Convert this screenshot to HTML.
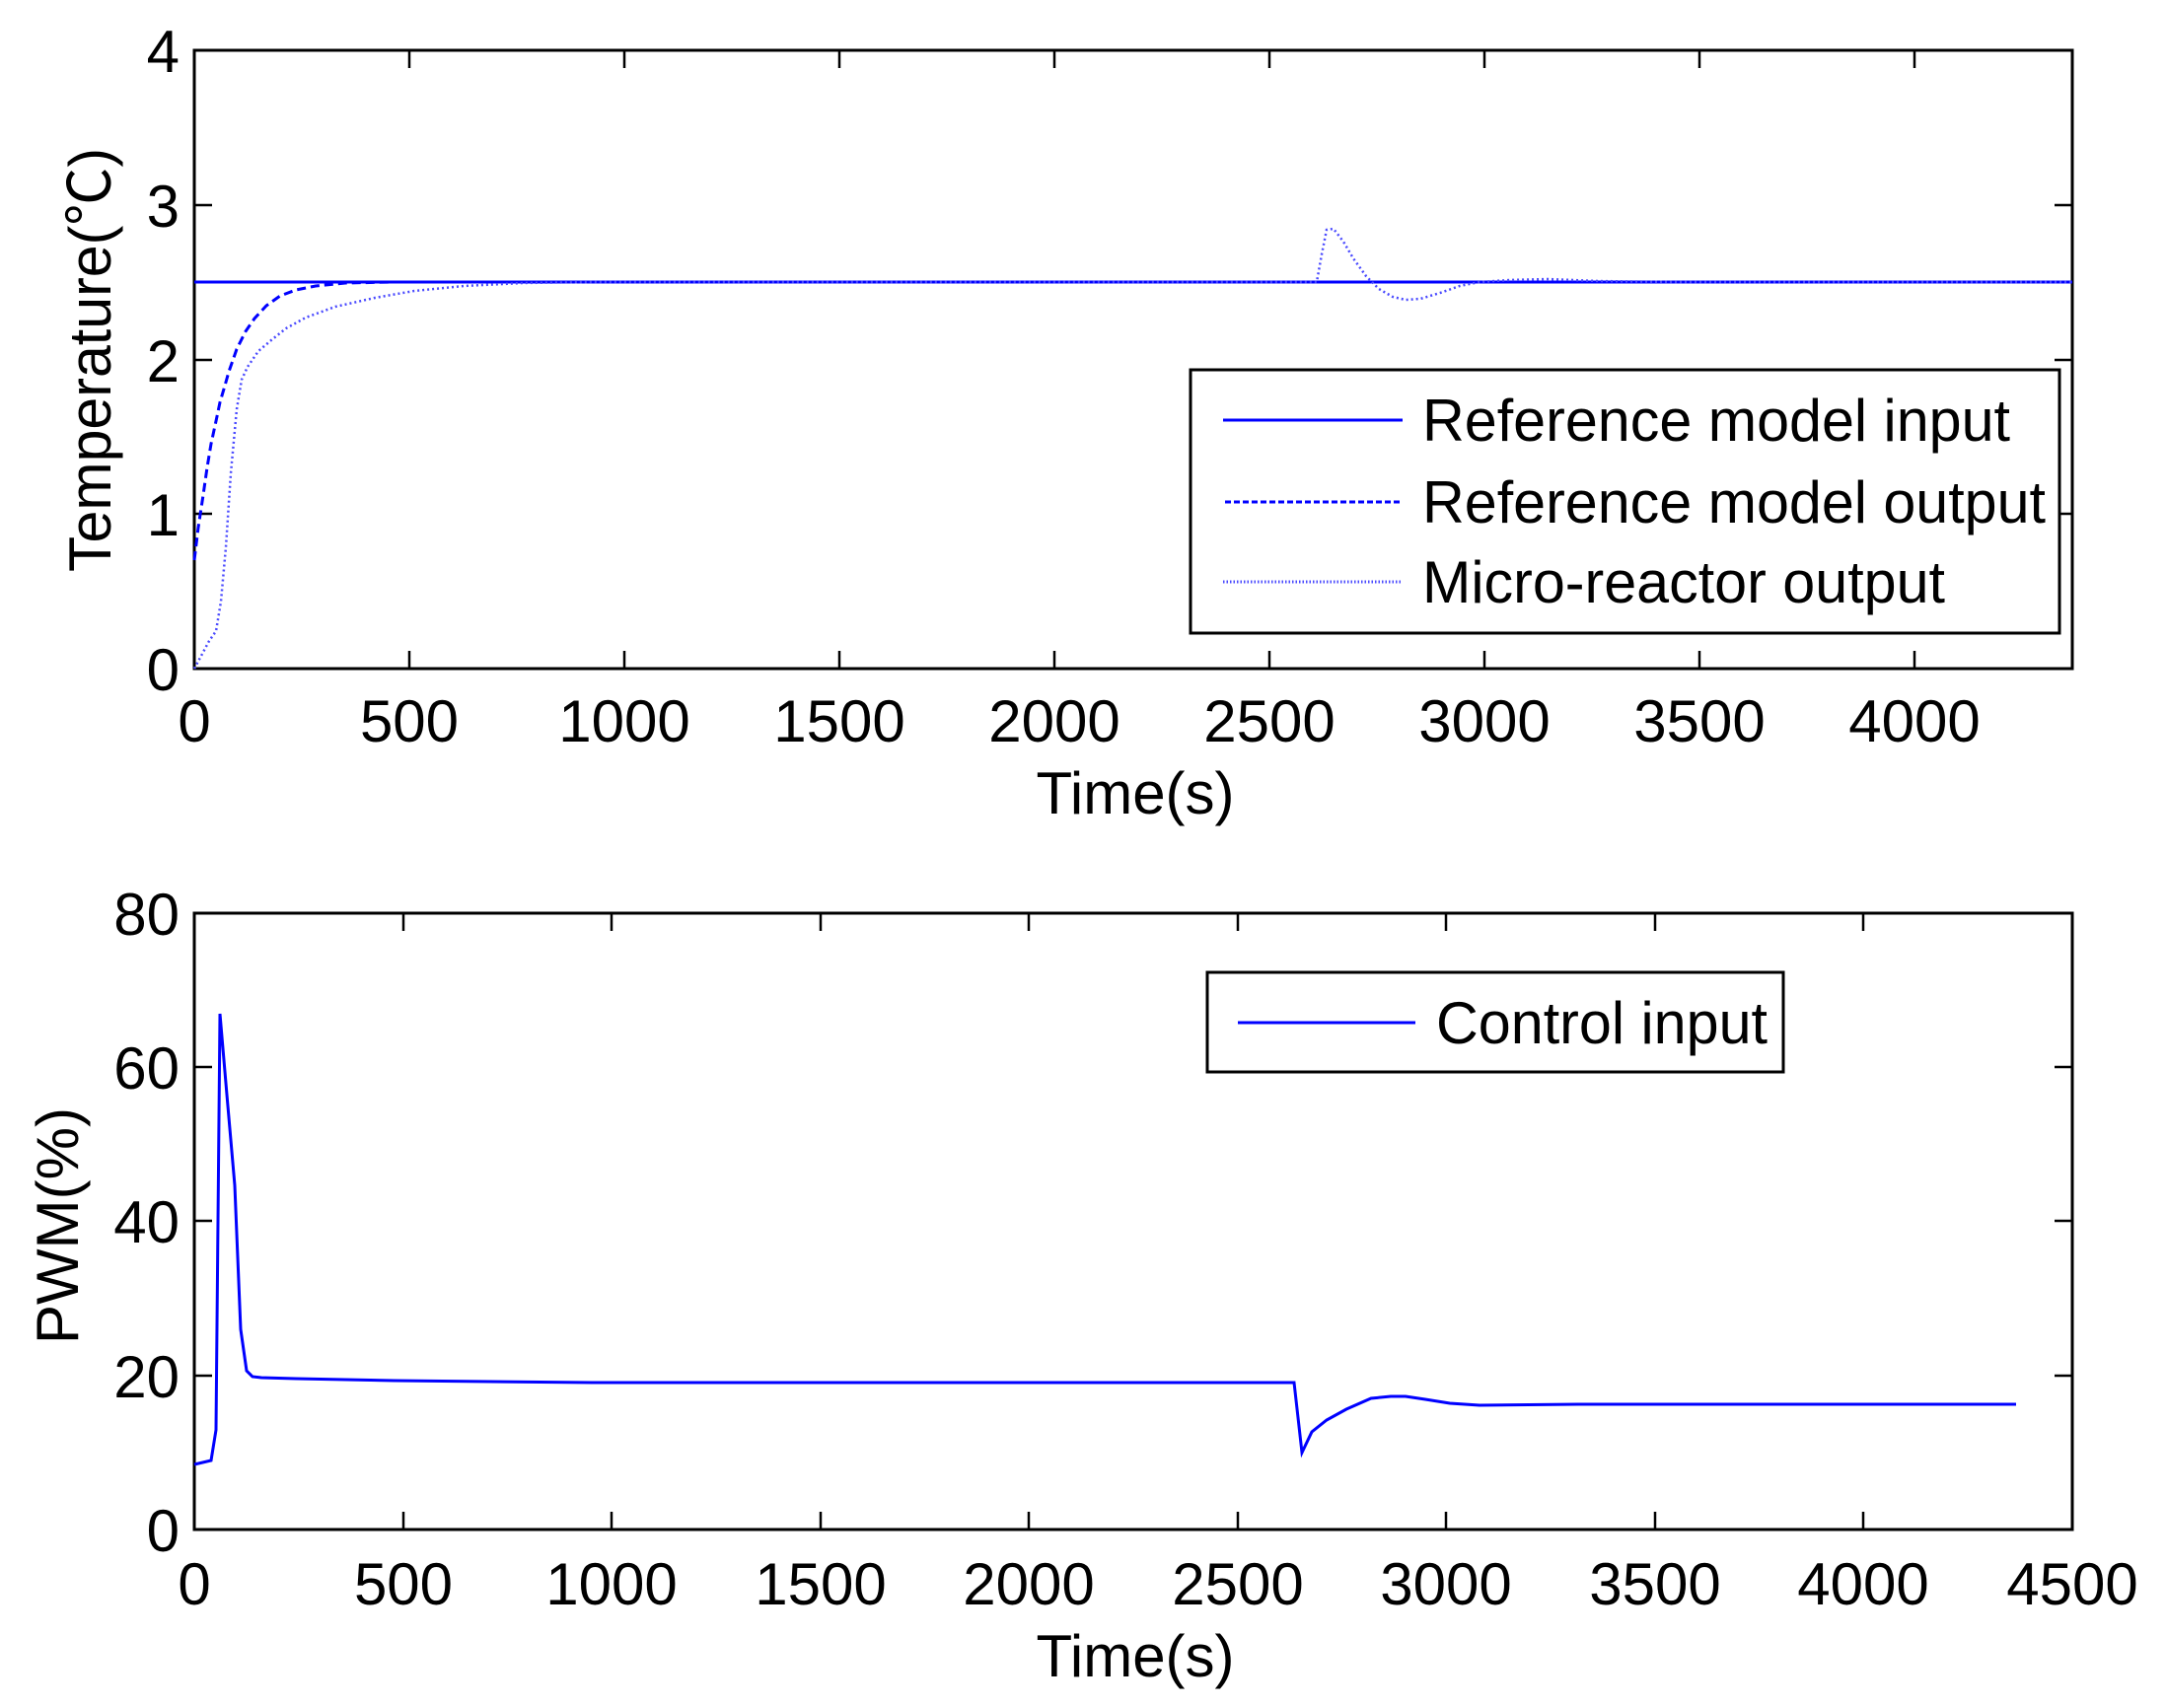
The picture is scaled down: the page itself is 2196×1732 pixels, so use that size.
<!DOCTYPE html>
<html><head><meta charset="utf-8"><style>html,body{margin:0;padding:0;background:#fff}svg{display:block}</style></head>
<body>
<svg width="2196" height="1732" viewBox="0 0 2196 1732" xmlns="http://www.w3.org/2000/svg" font-family="Liberation Sans, Arial, sans-serif">
<rect width="2196" height="1732" fill="#fff"/>
<!-- TOP AXES -->
<rect x="197" y="51" width="1904" height="627" fill="none" stroke="#000" stroke-width="3"/>
<g stroke="#000" stroke-width="2.5">
<line x1="415" y1="678" x2="415" y2="660"/><line x1="415" y1="51" x2="415" y2="69"/>
<line x1="633" y1="678" x2="633" y2="660"/><line x1="633" y1="51" x2="633" y2="69"/>
<line x1="851" y1="678" x2="851" y2="660"/><line x1="851" y1="51" x2="851" y2="69"/>
<line x1="1069" y1="678" x2="1069" y2="660"/><line x1="1069" y1="51" x2="1069" y2="69"/>
<line x1="1287" y1="678" x2="1287" y2="660"/><line x1="1287" y1="51" x2="1287" y2="69"/>
<line x1="1505" y1="678" x2="1505" y2="660"/><line x1="1505" y1="51" x2="1505" y2="69"/>
<line x1="1723" y1="678" x2="1723" y2="660"/><line x1="1723" y1="51" x2="1723" y2="69"/>
<line x1="1941" y1="678" x2="1941" y2="660"/><line x1="1941" y1="51" x2="1941" y2="69"/>
<line x1="197" y1="521" x2="215" y2="521"/><line x1="2101" y1="521" x2="2083" y2="521"/>
<line x1="197" y1="365" x2="215" y2="365"/><line x1="2101" y1="365" x2="2083" y2="365"/>
<line x1="197" y1="208" x2="215" y2="208"/><line x1="2101" y1="208" x2="2083" y2="208"/>
</g>
<g font-size="60" fill="#000" text-anchor="middle">
<text x="197" y="752">0</text><text x="415" y="752">500</text><text x="633" y="752">1000</text>
<text x="851" y="752">1500</text><text x="1069" y="752">2000</text><text x="1287" y="752">2500</text>
<text x="1505" y="752">3000</text><text x="1723" y="752">3500</text><text x="1941" y="752">4000</text>
<text x="1151" y="825">Time(s)</text>
</g>
<g font-size="60" fill="#000" text-anchor="end">
<text x="182" y="700">0</text><text x="182" y="543">1</text><text x="182" y="387">2</text>
<text x="182" y="230">3</text><text x="182" y="73">4</text>
</g>
<text transform="translate(112,365) rotate(-90)" font-size="60" text-anchor="middle" textLength="430" lengthAdjust="spacingAndGlyphs" font-family="Liberation Sans, 'Noto Sans CJK SC', sans-serif">Temperature(℃)</text>

<!-- top series -->
<line x1="197" y1="286" x2="2101" y2="286" stroke="#00f" stroke-width="3"/>
<polyline fill="none" stroke="#00f" stroke-width="3" stroke-dasharray="9 5" points="197,568 201,535 206,502 210,474 214,450 219,427 223,408 228,391 232,377 240,354 249,336 258,323 270,310 284,300 300,294 320,290 350,287 400,286 450,286"/>
<polyline fill="none" stroke="#4a4aff" stroke-width="2.5" stroke-dasharray="2 3" points="197,678 204,665 212,650 219,640 224,610 229,555 234,480 240,415 245,385 251,372 262,356 275,345 290,333 310,322 340,311 380,302 420,295 470,290 530,287 600,286 1335,286 1340,258 1345,233 1352,232 1362,245 1372,262 1385,280 1398,293 1412,301 1425,304 1440,303 1460,297 1480,290 1500,286 1530,284 1570,283 1620,285 1700,286 2101,286"/>

<!-- top legend -->
<rect x="1207" y="375" width="881" height="267" fill="#fff" stroke="#000" stroke-width="3"/>
<line x1="1240" y1="426" x2="1422" y2="426" stroke="#00f" stroke-width="3"/>
<line x1="1242" y1="509" x2="1422" y2="509" stroke="#00f" stroke-width="3" stroke-dasharray="6 3"/>
<line x1="1240" y1="590" x2="1422" y2="590" stroke="#4a4aff" stroke-width="3" stroke-dasharray="1.5 2"/>
<g font-size="60" fill="#000">
<text x="1442" y="447" textLength="596" lengthAdjust="spacingAndGlyphs">Reference model input</text>
<text x="1442" y="530" textLength="632" lengthAdjust="spacingAndGlyphs">Reference model output</text>
<text x="1442" y="611" textLength="530" lengthAdjust="spacingAndGlyphs">Micro-reactor output</text>
</g>

<!-- BOTTOM AXES -->
<rect x="197" y="926" width="1904" height="625" fill="none" stroke="#000" stroke-width="3"/>
<g stroke="#000" stroke-width="2.5">
<line x1="409" y1="1551" x2="409" y2="1533"/><line x1="409" y1="926" x2="409" y2="944"/>
<line x1="620" y1="1551" x2="620" y2="1533"/><line x1="620" y1="926" x2="620" y2="944"/>
<line x1="832" y1="1551" x2="832" y2="1533"/><line x1="832" y1="926" x2="832" y2="944"/>
<line x1="1043" y1="1551" x2="1043" y2="1533"/><line x1="1043" y1="926" x2="1043" y2="944"/>
<line x1="1255" y1="1551" x2="1255" y2="1533"/><line x1="1255" y1="926" x2="1255" y2="944"/>
<line x1="1466" y1="1551" x2="1466" y2="1533"/><line x1="1466" y1="926" x2="1466" y2="944"/>
<line x1="1678" y1="1551" x2="1678" y2="1533"/><line x1="1678" y1="926" x2="1678" y2="944"/>
<line x1="1889" y1="1551" x2="1889" y2="1533"/><line x1="1889" y1="926" x2="1889" y2="944"/>
<line x1="197" y1="1395" x2="215" y2="1395"/><line x1="2101" y1="1395" x2="2083" y2="1395"/>
<line x1="197" y1="1238" x2="215" y2="1238"/><line x1="2101" y1="1238" x2="2083" y2="1238"/>
<line x1="197" y1="1082" x2="215" y2="1082"/><line x1="2101" y1="1082" x2="2083" y2="1082"/>
</g>
<g font-size="60" fill="#000" text-anchor="middle">
<text x="197" y="1627">0</text><text x="409" y="1627">500</text><text x="620" y="1627">1000</text>
<text x="832" y="1627">1500</text><text x="1043" y="1627">2000</text><text x="1255" y="1627">2500</text>
<text x="1466" y="1627">3000</text><text x="1678" y="1627">3500</text><text x="1889" y="1627">4000</text>
<text x="2101" y="1627">4500</text>
<text x="1151" y="1700">Time(s)</text>
</g>
<g font-size="60" fill="#000" text-anchor="end">
<text x="182" y="1573">0</text><text x="182" y="1417">20</text><text x="182" y="1260">40</text>
<text x="182" y="1104">60</text><text x="182" y="948">80</text>
</g>
<text transform="translate(79,1243) rotate(-90)" font-size="60" text-anchor="middle">PWM(%)</text>

<polyline fill="none" stroke="#00f" stroke-width="3" points="197,1485 214,1481 219,1450 223,1028 230,1110 238,1202 244,1348 250,1390 256,1396 265,1397 300,1398 400,1400 600,1402 1000,1402 1312,1402 1320,1473 1330,1452 1345,1440 1365,1429 1390,1418 1410,1416 1425,1416 1445,1419 1470,1423 1500,1425 1600,1424 1800,1424 2044,1424"/>

<!-- bottom legend -->
<rect x="1224" y="986" width="584" height="101" fill="#fff" stroke="#000" stroke-width="3"/>
<line x1="1255" y1="1037" x2="1435" y2="1037" stroke="#00f" stroke-width="3"/>
<text x="1456" y="1058" font-size="60" fill="#000" textLength="336" lengthAdjust="spacingAndGlyphs">Control input</text>
</svg>
</body></html>
